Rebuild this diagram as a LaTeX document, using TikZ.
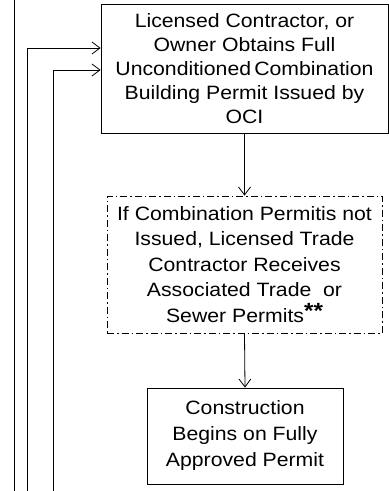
\documentclass[tikz,border=0pt]{standalone}
\usepackage{fontspec}
\setmainfont{Liberation Sans}[FakeStretch=1.1]
\usetikzlibrary{arrows.meta}
\begin{document}
\begin{tikzpicture}[x=1pt,y=-1pt,
  line width=0.8pt,
  boxstyle/.style={draw, align=center, inner sep=0pt, font=\fontsize{19.3}{24.2}\selectfont},
  dashbox/.style={boxstyle, dash pattern=on 7pt off 3pt on 1.5pt off 3pt, font=\fontsize{19.3}{25.5}\selectfont},
  arr/.style={-{Straight Barb[length=8pt,width=12pt,line width=0.8pt]}}]
\useasboundingbox (0,0) rectangle (389,491);
\node[boxstyle, minimum width=287pt, minimum height=129pt] (box1) at (244.5,68.5)
  {Licensed Contractor, or\\Owner Obtains Full\\Unconditioned\,Combination\\Building Permit Issued by\\OCI};
\node[dashbox, minimum width=275pt, minimum height=137pt] (box2) at (244.5,264.5)
  {If Combination Permitis not\\Issued, Licensed Trade\\Contractor Receives\\Associated Trade\ \ or\\Sewer Permits\raisebox{4pt}{\fontsize{22}{22}\selectfont\bfseries **}};
\node[boxstyle, font=\fontsize{19.3}{26}\selectfont, minimum width=196pt, minimum height=96pt] (box3) at (245,436)
  {Construction\\Begins on Fully\\Approved Permit};
\draw[arr] (box1.south) -- (box2.north);
\draw[arr] (box2.south) -- (box3.north);
\coordinate (t0) at (14,0);
\coordinate (b0) at (14,491);
\coordinate (b1) at (27,491);
\coordinate (b2) at (53,491);
\coordinate (e1) at (0,48);
\coordinate (e2) at (0,70);
\draw (t0) -- (b0);
\draw[arr] (b1) |- (box1.west |- e1);
\draw[arr] (b2) |- (box1.west |- e2);
\end{tikzpicture}
\end{document}
